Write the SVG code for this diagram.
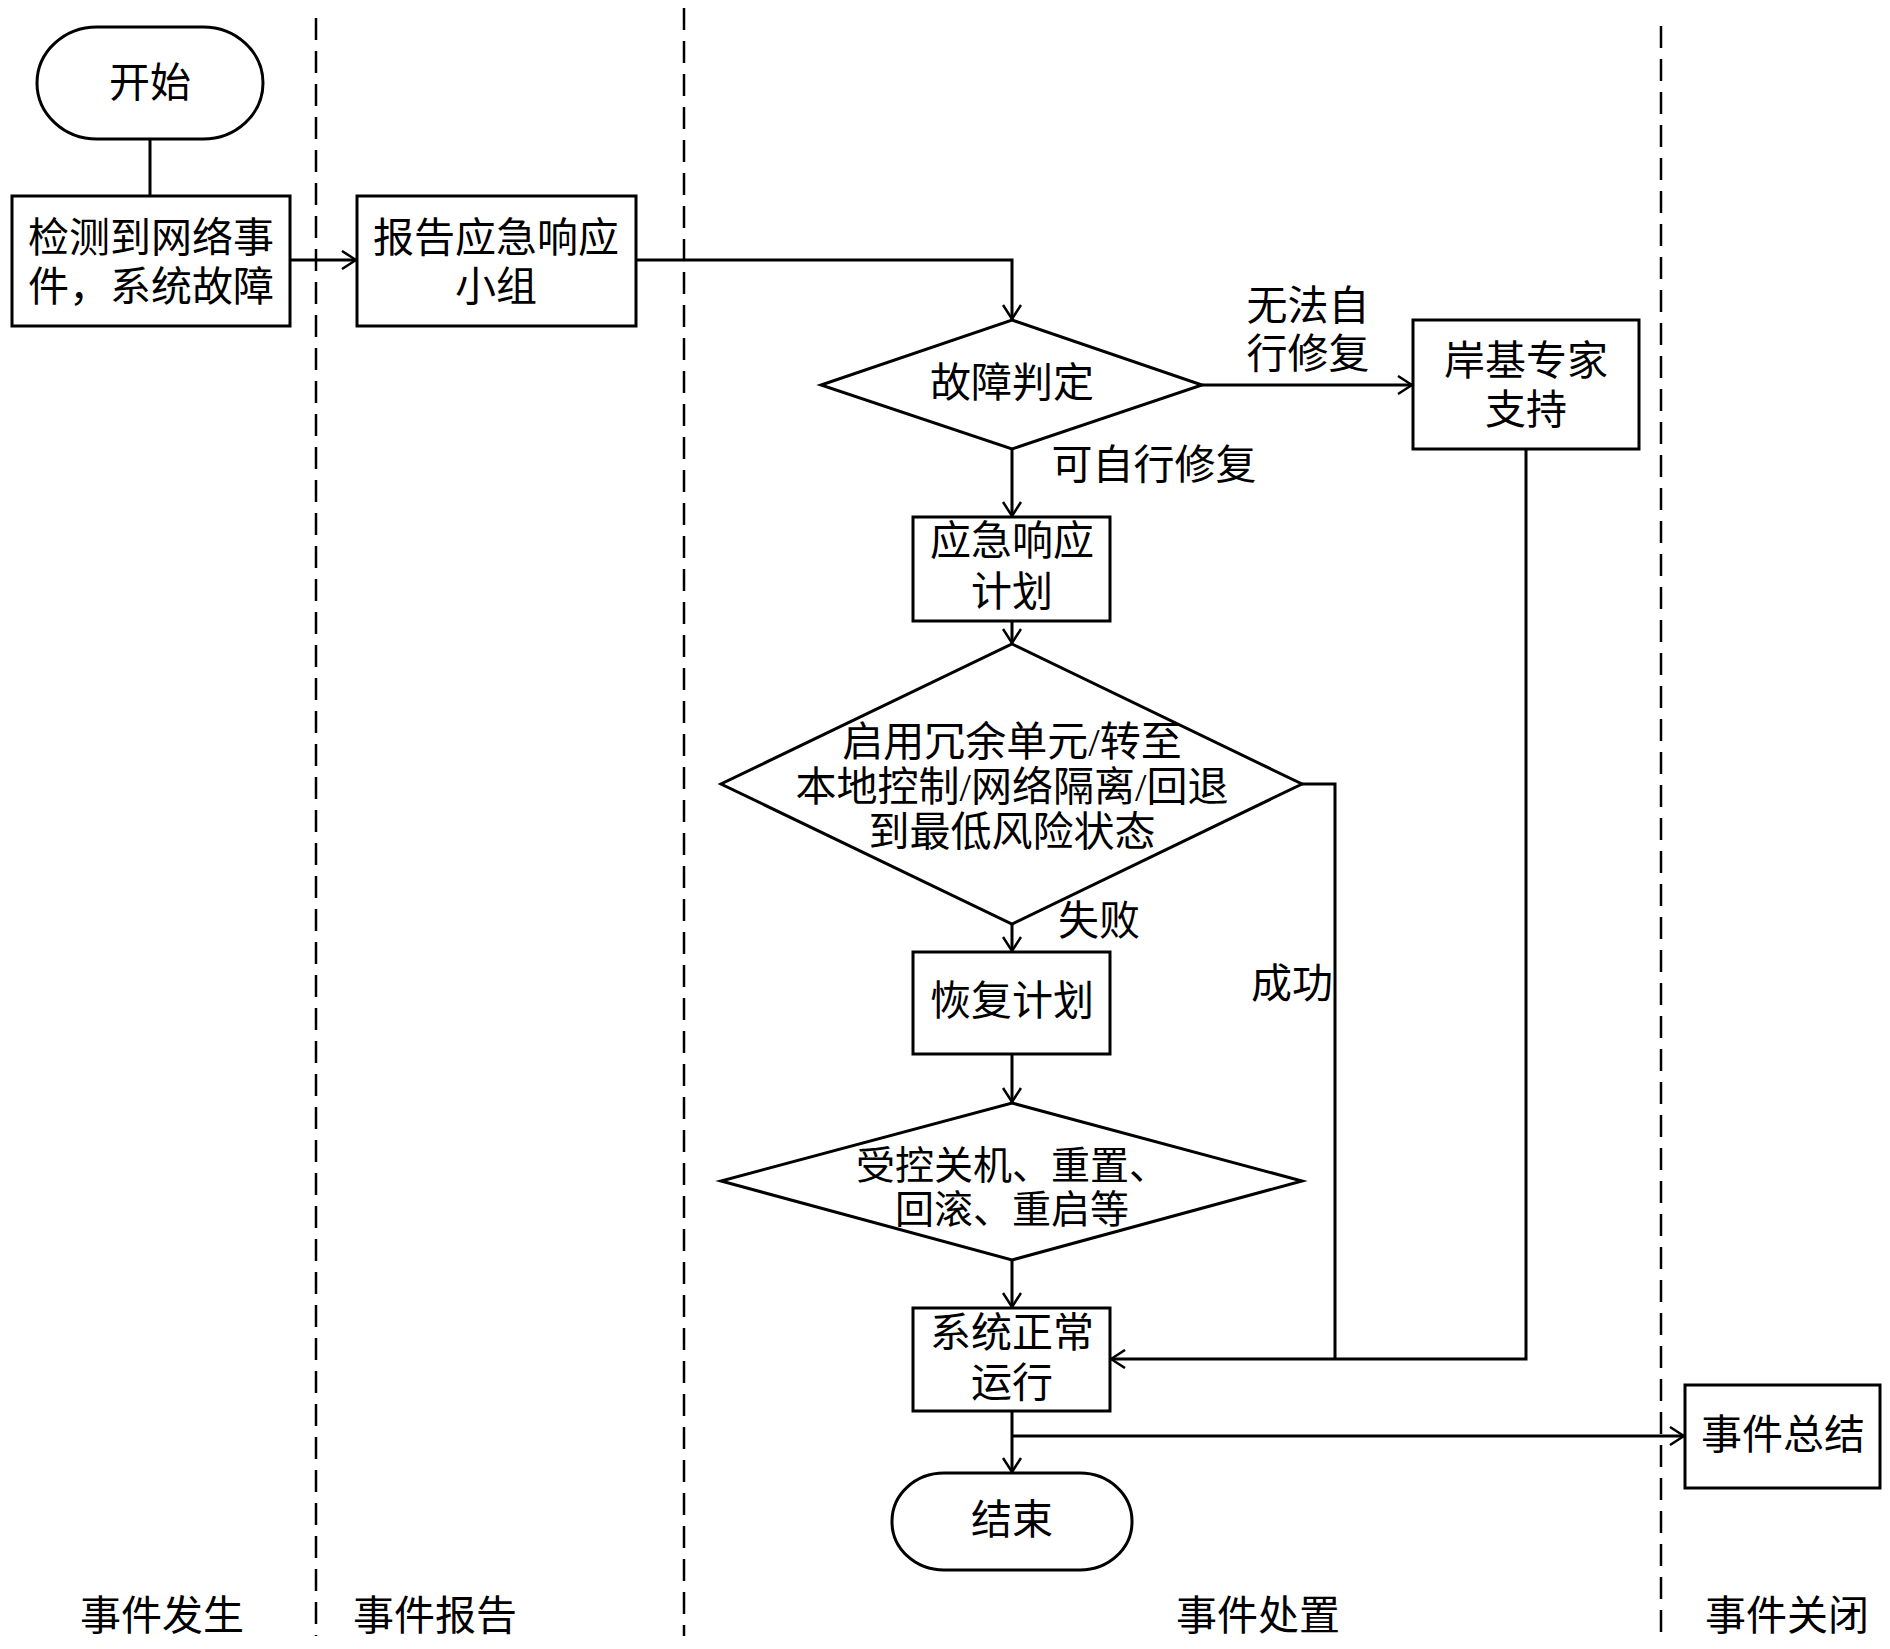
<svg xmlns="http://www.w3.org/2000/svg" width="1890" height="1649" viewBox="0 0 1890 1649">
<style>
.s{fill:#fff;stroke:#000;stroke-width:3}
.t{font-family:"Liberation Serif","Noto Sans CJK SC",serif;font-size:41px;fill:#000;text-anchor:middle;dominant-baseline:central}
.r{font-size:39px}
.c{fill:none;stroke:#000;stroke-width:3}
.d{fill:none;stroke:#000;stroke-width:2.5;stroke-dasharray:22 11}
</style>
<defs>
<marker id="a" viewBox="0 0 16 20" refX="15" refY="10" markerWidth="16" markerHeight="20" markerUnits="userSpaceOnUse" orient="auto">
<path d="M1,1 L15,10 L1,19" fill="none" stroke="#000" stroke-width="2.5"/>
</marker>
</defs>
<rect width="1890" height="1649" fill="#fff"/>
<g id="lanes">
<line class="d" x1="316" y1="18" x2="316" y2="1636"/>
<line class="d" x1="684" y1="8" x2="684" y2="1636"/>
<line class="d" x1="1661" y1="26" x2="1661" y2="1636"/>
<text class="t" x="162" y="1616">事件发生</text>
<text class="t" x="435" y="1616">事件报告</text>
<text class="t" x="1258" y="1616">事件处置</text>
<text class="t" x="1787" y="1616">事件关闭</text>
</g>
<g id="connectors">
<line class="c" x1="150" y1="139" x2="150" y2="196"/>
<line class="c" x1="290" y1="260" x2="356" y2="260" marker-end="url(#a)"/>
<polyline class="c" points="636,260 1012,260 1012,319" marker-end="url(#a)"/>
<line class="c" x1="1202" y1="385" x2="1412" y2="385" marker-end="url(#a)"/>
<line class="c" x1="1012" y1="449" x2="1012" y2="516" marker-end="url(#a)"/>
<line class="c" x1="1012" y1="621" x2="1012" y2="643" marker-end="url(#a)"/>
<line class="c" x1="1012" y1="924" x2="1012" y2="951" marker-end="url(#a)"/>
<line class="c" x1="1012" y1="1054" x2="1012" y2="1102" marker-end="url(#a)"/>
<line class="c" x1="1012" y1="1260" x2="1012" y2="1307" marker-end="url(#a)"/>
<polyline class="c" points="1302,784 1335,784 1335,1359"/>
<polyline class="c" points="1526,449 1526,1359 1111,1359" marker-end="url(#a)"/>
<line class="c" x1="1012" y1="1411" x2="1012" y2="1472" marker-end="url(#a)"/>
<line class="c" x1="1012" y1="1436" x2="1684" y2="1436" marker-end="url(#a)"/>
<text class="t" x="1308" y="306">无法自</text>
<text class="t" x="1308" y="354">行修复</text>
<text class="t" x="1154" y="465">可自行修复</text>
<text class="t" x="1099" y="921">失败</text>
<text class="t" x="1292" y="984">成功</text>
</g>
<g id="start">
<rect class="s" x="37" y="27" width="226" height="112" rx="60" ry="56"/>
<text class="t" x="150" y="83">开始</text>
</g>
<g id="detect">
<rect class="s" x="12" y="196" width="278" height="130"/>
<text class="t" x="151" y="238">检测到网络事</text>
<text class="t" x="151" y="287">件，系统故障</text>
</g>
<g id="report">
<rect class="s" x="357" y="196" width="279" height="130"/>
<text class="t" x="496" y="238">报告应急响应</text>
<text class="t" x="496" y="287">小组</text>
</g>
<g id="judge">
<polygon class="s" points="1012,320 1202,385 1012,449 821,385"/>
<text class="t" x="1012" y="383">故障判定</text>
</g>
<g id="expert">
<rect class="s" x="1413" y="320" width="226" height="129"/>
<text class="t" x="1526" y="361">岸基专家</text>
<text class="t" x="1526" y="410">支持</text>
</g>
<g id="plan">
<rect class="s" x="913" y="517" width="197" height="104"/>
<text class="t" x="1012" y="541">应急响应</text>
<text class="t" x="1012" y="592">计划</text>
</g>
<g id="action">
<polygon class="s" points="1012,644 1302,784 1012,924 721,784"/>
<text class="t" x="1012" y="742">启用冗余单元/转至</text>
<text class="t" x="1012" y="787">本地控制/网络隔离/回退</text>
<text class="t" x="1012" y="832">到最低风险状态</text>
</g>
<g id="recover">
<rect class="s" x="913" y="952" width="197" height="102"/>
<text class="t" x="1012" y="1001">恢复计划</text>
</g>
<g id="reset">
<polygon class="s" points="1012,1103 1302,1181 1012,1260 721,1181"/>
<text class="t r" x="1012" y="1165">受控关机、重置、</text>
<text class="t r" x="1012" y="1209">回滚、重启等</text>
</g>
<g id="normal">
<rect class="s" x="913" y="1308" width="197" height="103"/>
<text class="t" x="1012" y="1333">系统正常</text>
<text class="t" x="1012" y="1383">运行</text>
</g>
<g id="end">
<rect class="s" x="892" y="1473" width="240" height="97" rx="52" ry="48"/>
<text class="t" x="1012" y="1520">结束</text>
</g>
<g id="summary">
<rect class="s" x="1685" y="1385" width="195" height="103"/>
<text class="t" x="1783" y="1435">事件总结</text>
</g>
</svg>
